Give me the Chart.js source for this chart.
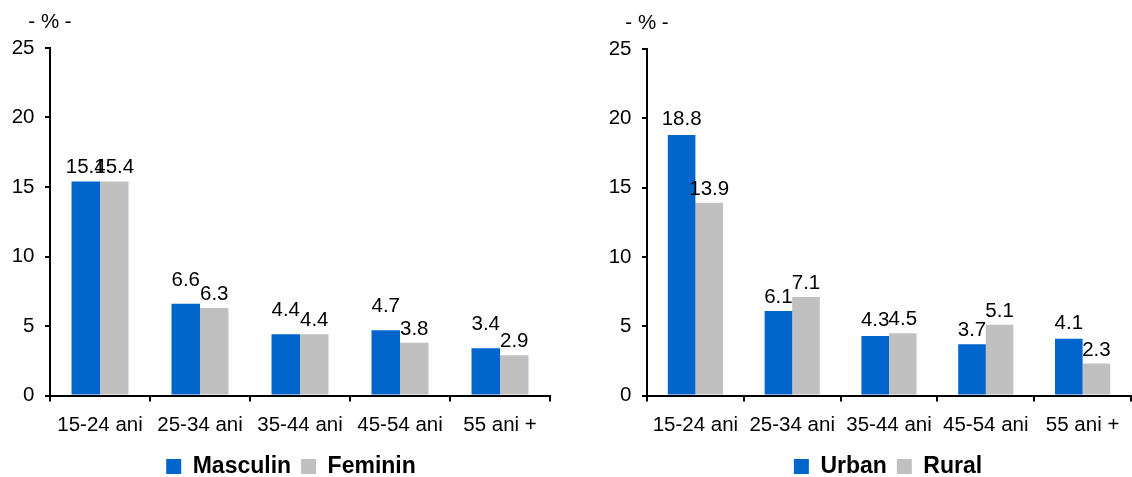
<!DOCTYPE html>
<html>
<head>
<meta charset="utf-8">
<script src="https://cdn.jsdelivr.net/npm/chart.js@4"></script>
<style>
  html, body { margin: 0; padding: 0; background: #fff; overflow: hidden; }
  .box { position: absolute; top: 0; width: 566px; height: 488px; }
  #leftBox { left: 0; }
  #rightBox { left: 566px; }
</style>
</head>
<body>
<div class="box" id="leftBox"><canvas id="sexChart" width="566" height="488"></canvas></div>
<div class="box" id="rightBox"><canvas id="areaChart" width="566" height="488"></canvas></div>
<script>
const categories = ["15-24 ani", "25-34 ani", "35-44 ani", "45-54 ani", "55 ani +"];
const masculin = [15.4, 6.6, 4.4, 4.7, 3.4];
const feminin = [15.4, 6.3, 4.4, 3.8, 2.9];
const urban = [18.8, 6.1, 4.3, 3.7, 4.1];
const rural = [13.9, 7.1, 4.5, 5.1, 2.3];
const yTicks = [0, 5, 10, 15, 20, 25];
const unitLabel = "- % -";

const BLUE = "#0066CC";
const GRAY = "#C0C0C0";
const FONT = '"Liberation Sans", Arial, Helvetica, sans-serif';

Chart.defaults.font.family = FONT;
Chart.defaults.color = "#000";

// valorile deasupra barelor
const valueLabels = {
  id: "valueLabels",
  afterDatasetsDraw(chart, args, opts) {
    const ctx = chart.ctx;
    const raise = opts.raise || [];
    ctx.save();
    ctx.font = "20.5px " + FONT;
    ctx.fillStyle = "#000";
    ctx.textAlign = "center";
    ctx.textBaseline = "alphabetic";
    chart.data.datasets.forEach((ds, i) => {
      chart.getDatasetMeta(i).data.forEach((bar, j) => {
        const extra = raise[i] ? raise[i][j] : 0;
        ctx.fillText(ds.data[j].toFixed(1), bar.x, bar.y - 8 - extra);
      });
    });
    ctx.restore();
  }
};

// "- % -" deasupra axei
const unitTitle = {
  id: "unitTitle",
  afterDraw(chart) {
    const ctx = chart.ctx;
    ctx.save();
    ctx.font = "20.5px " + FONT;
    ctx.fillStyle = "#000";
    ctx.textAlign = "center";
    ctx.textBaseline = "middle";
    ctx.fillText(unitLabel, chart.chartArea.left, chart.chartArea.top - 26);
    ctx.restore();
  }
};

// legenda centrata ca in Excel, putin spre dreapta
const legendShift = {
  id: "legendShift",
  afterLayout(chart, args, opts) {
    if (!chart.legend) return;
    chart.legend.left += opts.dx || 0;
    chart.legend.right += opts.dx || 0;
  }
};

const makeChart = (id, labelA, dataA, labelB, dataB, pad, yWidth, raise, dx) => {
  return new Chart(document.getElementById(id), {
    type: "bar",
    data: {
      labels: categories,
      datasets: [
        { label: labelA, data: dataA, backgroundColor: BLUE, borderWidth: 0,
          categoryPercentage: 0.57, barPercentage: 1 },
        { label: labelB, data: dataB, backgroundColor: GRAY, borderWidth: 0,
          categoryPercentage: 0.57, barPercentage: 1 }
      ]
    },
    options: {
      responsive: false,
      animation: false,
      layout: { padding: pad },
      scales: {
        x: {
          offset: true,
          grid: { offset: true, drawOnChartArea: false, drawTicks: true, tickLength: 6, color: "#000", lineWidth: 2 },
          border: { color: "#000", width: 2 },
          ticks: { font: { size: 20.5 }, padding: 12, color: "#000", maxRotation: 0 },
          afterFit: s => { s.height = 49.5; }
        },
        y: {
          min: 0,
          max: 25,
          afterBuildTicks: s => { s.ticks = yTicks.map(v => ({ value: v })); },
          grid: { drawOnChartArea: false, drawTicks: true, tickLength: 5, color: "#000", lineWidth: 2 },
          border: { color: "#000", width: 2 },
          ticks: { font: { size: 20.5 }, padding: 10.5, color: "#000" },
          afterFit: s => { s.width = yWidth; }
        }
      },
      plugins: {
        legend: {
          position: "bottom",
          labels: {
            boxWidth: 15,
            boxHeight: 15,
            padding: 10,
            color: "#000",
            font: { size: 23, weight: "bold" }
          }
        },
        tooltip: { enabled: false },
        valueLabels: { raise },
        legendShift: { dx }
      }
    },
    plugins: [valueLabels, unitTitle, legendShift]
  });
};

makeChart("sexChart", "Masculin", masculin, "Feminin", feminin,
  { left: 0, right: 16, top: 48, bottom: 0 }, 50,
  [[0, 10, 10, 10, 10], [0, 0, 0, 0, 0]], 16);

makeChart("areaChart", "Urban", urban, "Rural", rural,
  { left: 0, right: 1, top: 49, bottom: 0 }, 81,
  [[2, 0, 2, 0, 2], [0, 0, 0, 0, 0]], 39.5);
</script>
</body>
</html>
